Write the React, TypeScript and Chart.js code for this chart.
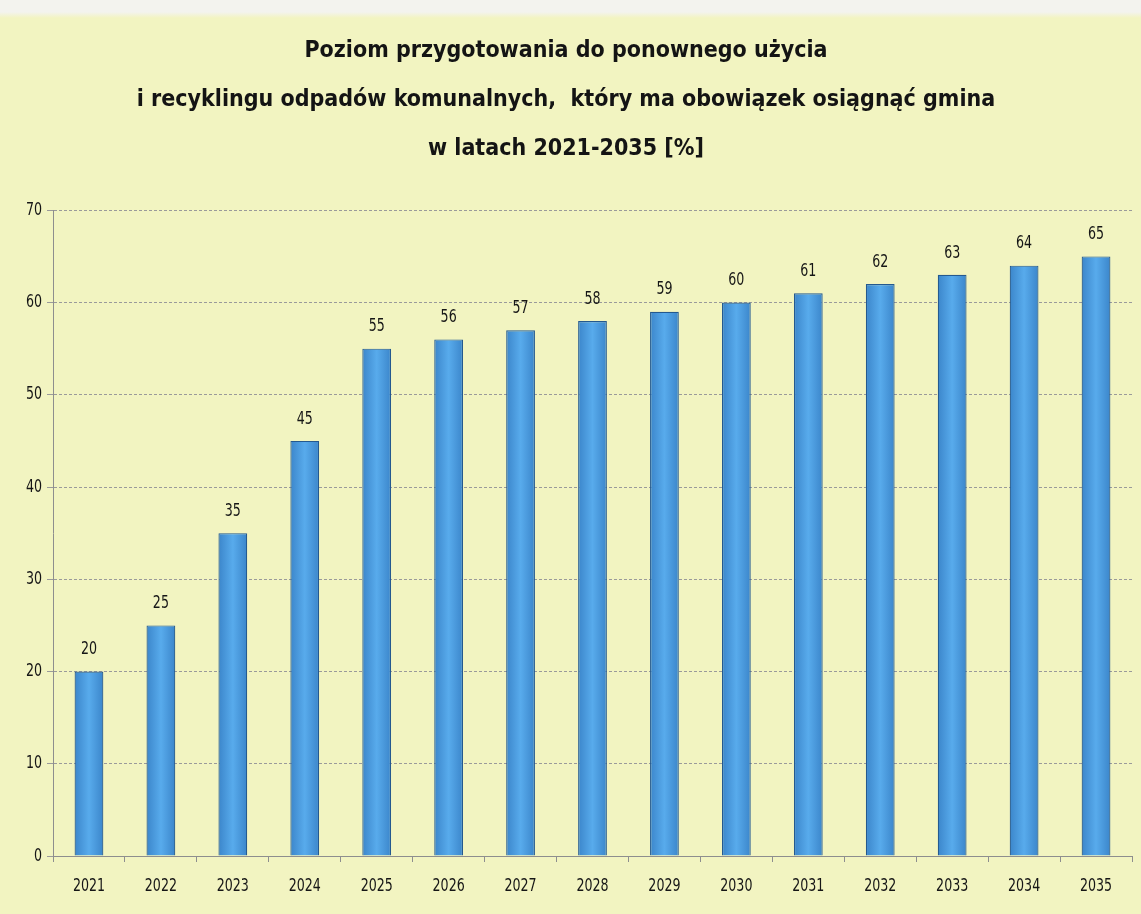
import React, { useEffect, useRef } from "react";
import { Chart, registerables } from "chart.js";

Chart.register(...registerables);

const categories = ["2021", "2022", "2023", "2024", "2025", "2026", "2027", "2028", "2029", "2030", "2031", "2032", "2033", "2034", "2035"];
const values = [20, 25, 35, 45, 55, 56, 57, 58, 59, 60, 61, 62, 63, 64, 65];
const yTicks = [0, 10, 20, 30, 40, 50, 60, 70];
const titleLines = [
  "Poziom przygotowania do ponownego użycia",
  "i recyklingu odpadów komunalnych,  który ma obowiązek osiągnąć gmina",
  "w latach 2021-2035 [%]",
];

const FONT = "'DejaVu Sans Condensed', 'DejaVu Sans', sans-serif";
const SQUEEZE = 0.78;

function drawNarrow(ctx: CanvasRenderingContext2D, text: string, x: number, y: number, align: "center" | "right") {
  ctx.save();
  ctx.translate(x, y);
  ctx.scale(SQUEEZE, 1);
  ctx.textAlign = align;
  ctx.fillText(text, 0, 0);
  ctx.restore();
}

const textLabels = {
  id: "textLabels",
  afterDraw(chart: any) {
    const ctx = chart.ctx as CanvasRenderingContext2D;
    const meta = chart.getDatasetMeta(0);
    const xs = chart.scales.x;
    const ys = chart.scales.y;
    ctx.save();
    ctx.font = `18px ${FONT}`;
    ctx.fillStyle = "#161616";
    ctx.textBaseline = "middle";
    meta.data.forEach((bar: any, i: number) => {
      drawNarrow(ctx, String(values[i]), bar.x, bar.y - 22, "center");
    });
    categories.forEach((c, i) => {
      drawNarrow(ctx, c, xs.getPixelForValue(i), 886, "center");
    });
    yTicks.forEach((v) => {
      drawNarrow(ctx, String(v), 42, ys.getPixelForValue(v), "right");
    });
    ctx.restore();
  },
};

export default function App() {
  const ref = useRef<HTMLCanvasElement>(null);
  useEffect(() => {
    const chart = new Chart(ref.current!, {
      type: "bar",
      data: {
        labels: categories,
        datasets: [
          {
            data: values,
            backgroundColor: (c: any) => {
              const sc = c.chart.scales && c.chart.scales.x;
              if (!sc || c.dataIndex === undefined) return "#4b9fe2";
              const x = sc.getPixelForValue(c.dataIndex);
              if (!Number.isFinite(x)) return "#4b9fe2";
              const g = c.chart.ctx.createLinearGradient(x - 15, 0, x + 15, 0);
              g.addColorStop(0, "#3a84c9");
              g.addColorStop(0.5, "#58abec");
              g.addColorStop(1, "#3a84c9");
              return g;
            },
            borderColor: "#24598f",
            borderWidth: 1.2,
            barPercentage: 0.4,
            categoryPercentage: 1,
          },
        ],
      },
      options: {
        animation: false,
        responsive: false,
        layout: { padding: { left: 0, right: 9, top: 0, bottom: 10 } },
        plugins: {
          legend: { display: false },
          tooltip: { enabled: false },
          title: {
            display: true,
            text: titleLines,
            color: "#141414",
            font: { family: FONT, size: 23, weight: "bold", lineHeight: 2.12 },
            padding: { top: 27, bottom: 37 },
          },
        },
        scales: {
          x: {
            grid: {
              drawOnChartArea: false,
              drawTicks: true,
              tickLength: 6,
              color: "#8e8e8e",
            },
            border: { display: true, color: "#8e8e8e", dash: [3, 2] },
            ticks: { display: false },
            afterFit(scale: any) {
              scale.height = 48;
            },
          },
          y: {
            min: 0,
            max: 70,
            ticks: { stepSize: 10, display: false },
            grid: { color: "#9a9a9a", tickLength: 6, lineWidth: 1 },
            border: { display: true, color: "#8e8e8e", dash: [3, 2] },
            afterFit(scale: any) {
              scale.width = 53;
            },
          },
        },
      },
      plugins: [textLabels],
    } as any);
    return () => chart.destroy();
  }, []);
  return (
    <div
      style={{
        position: "fixed",
        left: 0,
        top: 0,
        width: 1141,
        height: 914,
        background: "linear-gradient(to bottom, #f3f3ee 0px, #f3f3ee 12px, #f2f4c1 18px, #f2f4c1 100%)",
      }}
    >
      <canvas ref={ref} width={1141} height={914} style={{ display: "block" }} />
    </div>
  );
}
